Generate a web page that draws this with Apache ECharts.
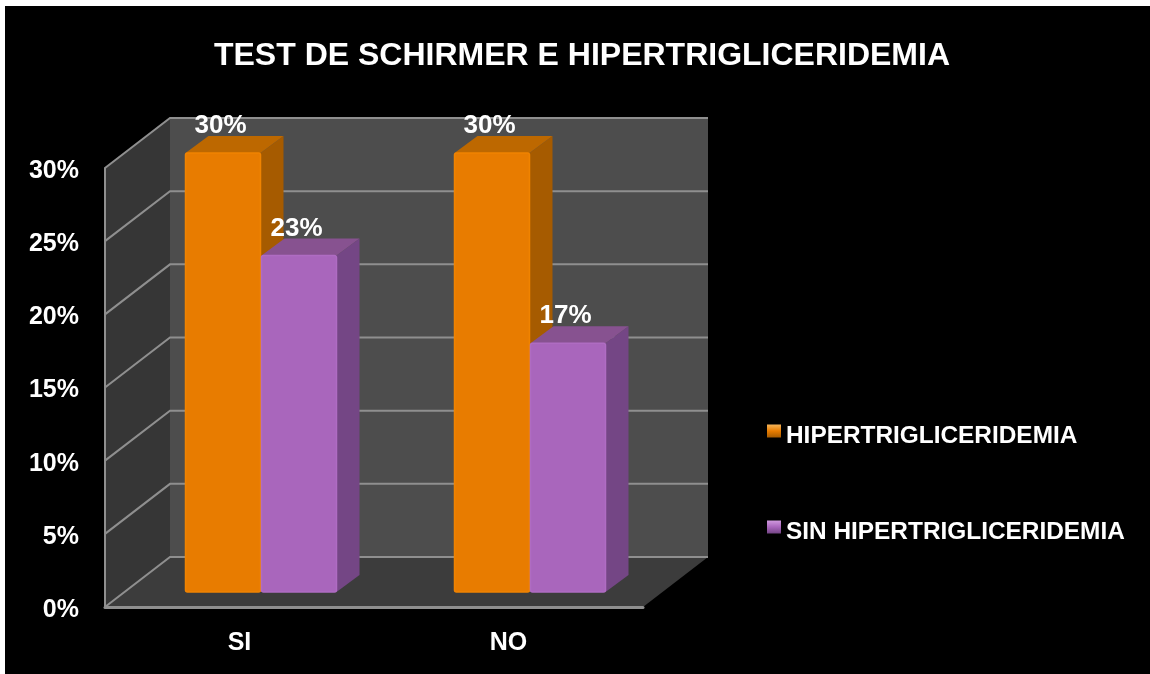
<!DOCTYPE html>
<html><head><meta charset="utf-8">
<style>
html,body{margin:0;padding:0;background:#fff;}
#bg{position:absolute;left:5px;top:6px;width:1145px;height:668px;background:#000;}
#chart{position:absolute;left:0;top:0;width:1150px;height:674px;}
</style>
<script src="https://cdn.jsdelivr.net/npm/echarts@6/dist/echarts.min.js"></script>
</head><body><div id="bg"></div><div id="chart"></div>
<script>
const categories = ['SI', 'NO'];
const hiper = [30, 30];
const sinHiper = [23, 17];
const yTicks = [0, 5, 10, 15, 20, 25, 30];
const titleText = 'TEST DE SCHIRMER E HIPERTRIGLICERIDEMIA';
const nameA = 'HIPERTRIGLICERIDEMIA';
const nameB = 'SIN HIPERTRIGLICERIDEMIA';

// 3D projection offsets, in pixels
const WALL_DX = 65, WALL_DY = -50;
const BAR_DX = 22, BAR_DY = -15;
const SIDE_DX = 23, SIDE_DY = -17;
const BAR_W = 75;
const FONT = '"Liberation Sans", Arial, sans-serif';

function poly(points, fill, z2) {
  return { type: 'polygon', shape: { points }, style: { fill }, z2: z2 || 0 };
}

function renderWalls(params, api) {
  const r = params.coordSys;
  const l = r.x, t = r.y, b = r.y + r.height, rr = r.x + r.width;
  return { type: 'group', children: [
    poly([[l + WALL_DX, t + WALL_DY], [rr + WALL_DX, t + WALL_DY], [rr + WALL_DX, b + WALL_DY], [l + WALL_DX, b + WALL_DY]], '#4d4d4d'),
    poly([[l, t], [l + WALL_DX, t + WALL_DY], [l + WALL_DX, b + WALL_DY], [l, b]], '#363636'),
    poly([[l, b], [l + WALL_DX, b + WALL_DY], [rr + WALL_DX, b + WALL_DY], [rr, b]], '#3c3c3c')
  ]};
}

function renderGrid(params, api) {
  const r = params.coordSys;
  const p = api.coord([0, api.value(1)]);
  const x0 = r.x, y0 = p[1];
  return { type: 'polyline',
    shape: { points: [[x0, y0], [x0 + WALL_DX, y0 + WALL_DY], [x0 + r.width + WALL_DX, y0 + WALL_DY]] },
    style: { fill: null, stroke: '#8f8f8f', lineWidth: 2 } };
}

function makeBarRenderer(side, colors) {
  return function (params, api) {
    const i = api.value(0), v = api.value(1);
    const top = api.coord([i, v]);
    const base = api.coord([i, 0]);
    const cx = top[0] + BAR_DX;
    const x0 = side < 0 ? cx - BAR_W - 1 : cx;
    const x1 = x0 + BAR_W;
    const yT = top[1] + BAR_DY, yB = base[1] + BAR_DY;
    return { type: 'group', children: [
      poly([[x1, yT], [x1 + SIDE_DX, yT + SIDE_DY], [x1 + SIDE_DX, yB + SIDE_DY], [x1, yB]], colors.side),
      poly([[x0, yT], [x0 + SIDE_DX, yT + SIDE_DY], [x1 + SIDE_DX, yT + SIDE_DY], [x1, yT]], colors.top),
      { type: 'rect', shape: { x: x0, y: yT, width: BAR_W, height: yB - yT, r: 2 },
        style: { fill: colors.front, stroke: colors.edge, lineWidth: 1.5 } },
      { type: 'text', x: (x0 + x1) / 2 - 2.5, y: yT - 27,
        style: { text: v + '%', fill: '#fff', font: 'bold 26px ' + FONT, align: 'center', verticalAlign: 'middle' } }
    ]};
  };
}

const colorsA = { front: '#e87c00', edge: '#f08300', side: '#a65b00', top: '#bd6800' };
const colorsB = { front: '#a966bc', edge: '#af6cc2', side: '#744685', top: '#875290' };

function legendFill(light, base, dark) {
  return new echarts.graphic.LinearGradient(0, 0, 0, 1, [
    { offset: 0, color: light }, { offset: 0.5, color: base }, { offset: 1, color: dark }
  ]);
}

const chart = echarts.init(document.getElementById('chart'), null, { renderer: 'canvas' });
chart.setOption({
  animation: false,
  backgroundColor: 'transparent',
  title: { text: titleText, left: 577, top: 35, textAlign: 'center',
    textStyle: { color: '#fff', fontFamily: FONT, fontWeight: 'bold', fontSize: 32 } },
  grid: { left: 105, top: 168, width: 538, height: 439, containLabel: false },
  legend: {
    orient: 'vertical', left: 762, top: 419, icon: 'rect', itemWidth: 14, itemHeight: 13, itemGap: 72,
    data: [
      { name: nameA, itemStyle: { color: legendFill('#f5b55a', '#e87c00', '#a65b00') } },
      { name: nameB, itemStyle: { color: legendFill('#d09ade', '#a966bc', '#744685') } }
    ],
    selectedMode: false,
    formatter: name => '{a|' + name + '}',
    textStyle: { color: '#fff', rich: { a: { color: '#fff', fontFamily: FONT, fontWeight: 'bold', fontSize: 24.4, padding: [10, 0, 0, 0] } } }
  },
  xAxis: { type: 'category', data: categories, z: 2,
    axisLine: { show: true, lineStyle: { color: '#8f8f8f', width: 3 } },
    axisTick: { show: false },
    axisLabel: { color: '#fff', fontFamily: FONT, fontWeight: 'bold', fontSize: 25, margin: 24 } },
  yAxis: { type: 'value', min: 0, max: 30, interval: 5, z: 2,
    axisLine: { show: true, lineStyle: { color: '#8f8f8f', width: 2 } },
    axisTick: { show: false }, splitLine: { show: false },
    axisLabel: { color: '#fff', fontFamily: FONT, fontWeight: 'bold', fontSize: 25, margin: 26, verticalAlign: 'top', lineHeight: 6, formatter: '{value}%' } },
  series: [
    { type: 'custom', z: 1, silent: true, renderItem: renderWalls, data: [[0, 0]] },
    { type: 'custom', z: 1, silent: true, renderItem: renderGrid, data: yTicks.map(v => [0, v]) },
    { type: 'custom', name: nameA, z: 3, renderItem: makeBarRenderer(-1, colorsA),
      itemStyle: { color: colorsA.front }, data: hiper.map((v, i) => [i, v]) },
    { type: 'custom', name: nameB, z: 4, renderItem: makeBarRenderer(1, colorsB),
      itemStyle: { color: colorsB.front }, data: sinHiper.map((v, i) => [i, v]) }
  ]
});
</script></body></html>
